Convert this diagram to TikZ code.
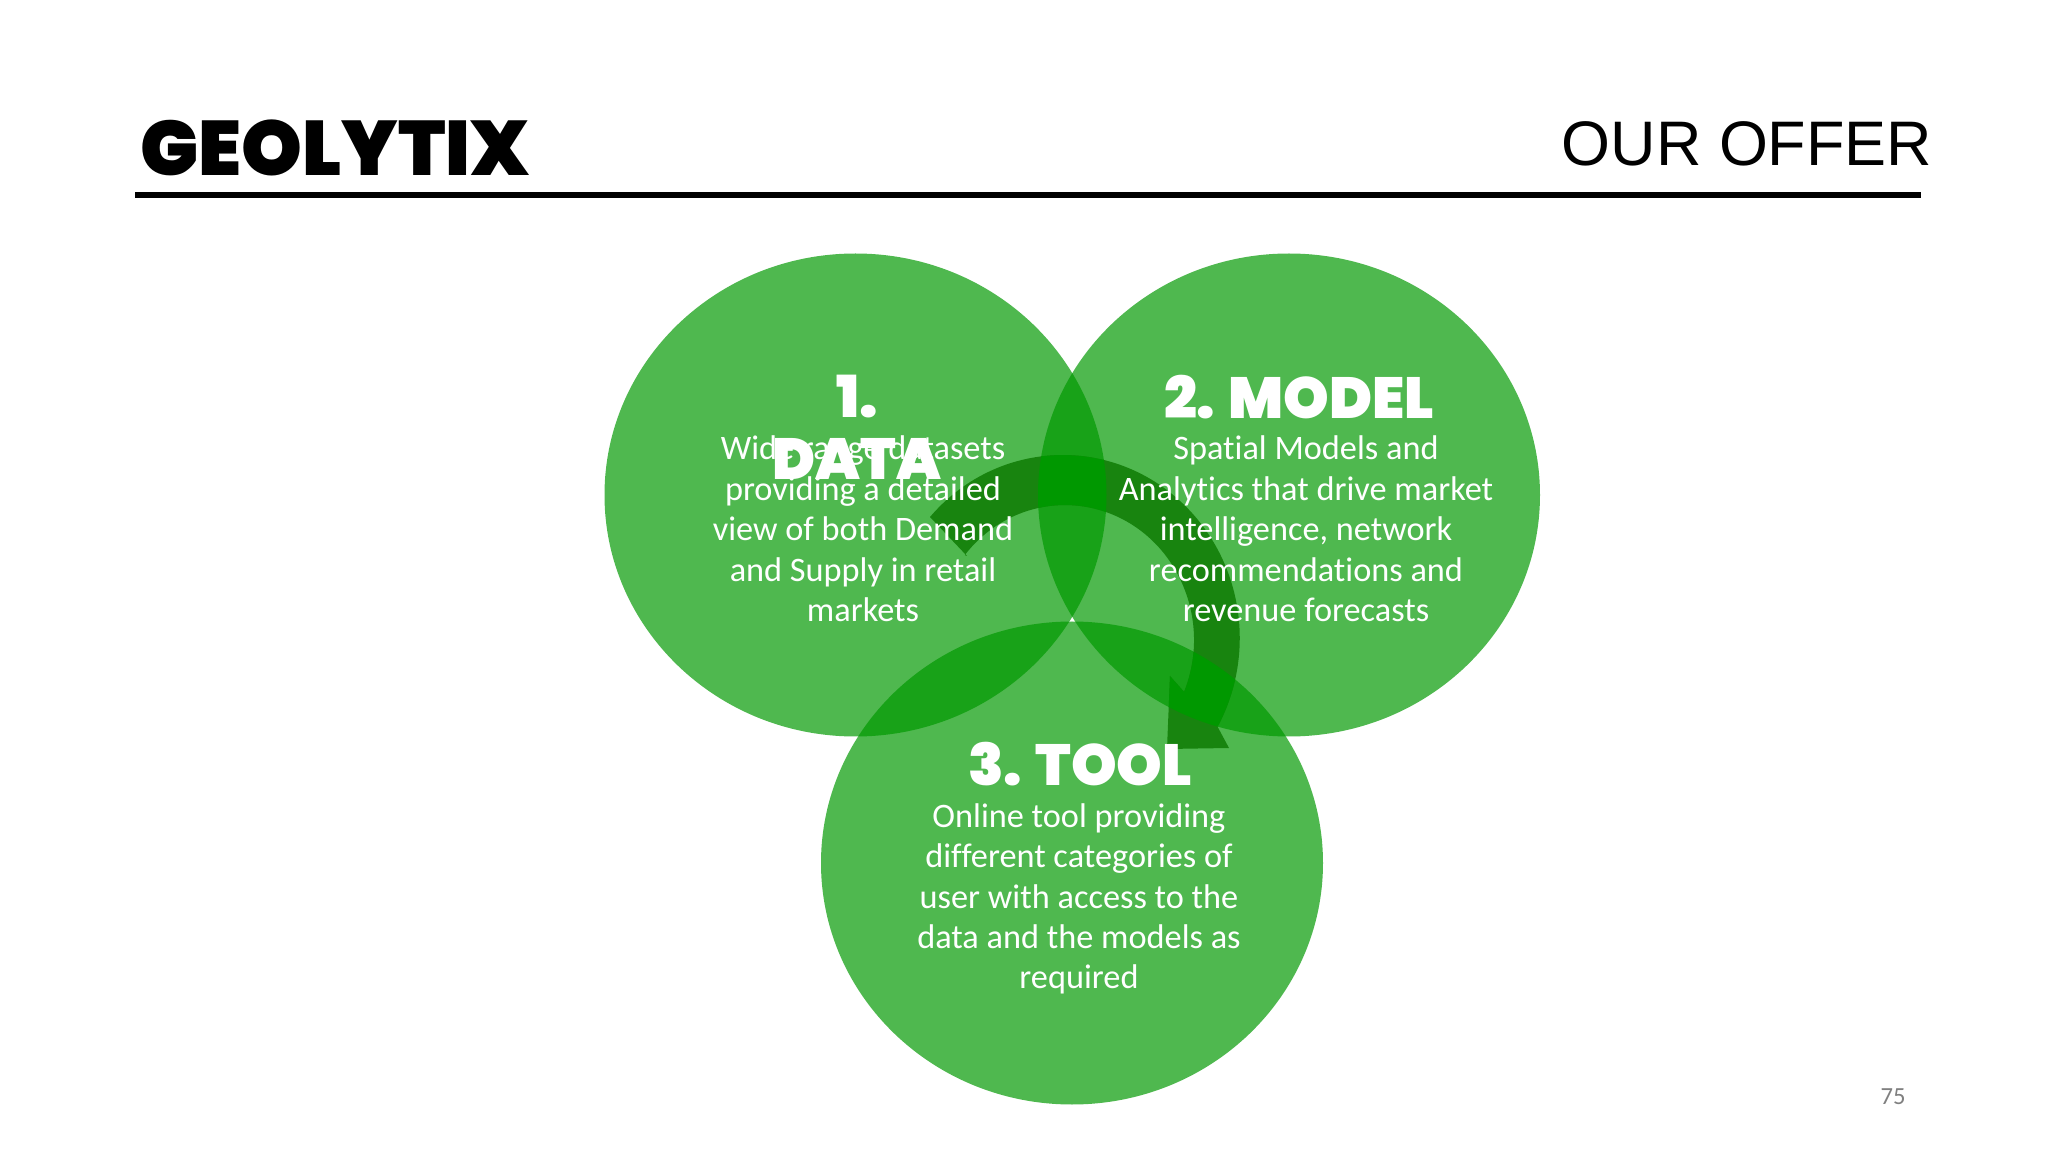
\documentclass[tikz,border=0pt]{standalone}
\usepackage{fontspec}
\setmainfont[Ligatures=NoCommon]{Carlito}
\newfontfamily\logofont[UprightFont=* Black]{Poppins}
\newfontfamily\titlefont{Liberation Sans}
\usetikzlibrary{shapes.geometric}
\definecolor{vennfill}{HTML}{009900}
\definecolor{arrowdark}{HTML}{18840F}
\definecolor{arrowlight}{HTML}{009800}
\tikzset{
    venn/.style={ellipse, inner sep=0pt, minimum width=5.02cm, minimum height=4.83cm, fill=vennfill, fill opacity=0.69},
    heading/.style={text=white, align=center, font=\logofont\fontsize{16.5}{17.6}\selectfont},
    body/.style={text=white, align=center, font=\fontsize{9.76}{11.5}\selectfont},
}
% curved arrow outline, shared by the three fills
\newcommand{\arrowoutline}{(9.30,-5.17) arc[start angle=138.6, end angle=-29, x radius=1.77, y radius=1.83]
    -- (12.29,-7.48) -- (11.67,-7.49) -- (11.70,-6.76) -- (11.841,-6.919)
    arc[start angle=-22.6, end angle=141, x radius=1.29, y radius=1.35] -- (9.67,-5.56) -- cycle}
\newcommand{\clipdata}{\clip (8.555,-4.95) ellipse (2.51 and 2.415);}
\newcommand{\clipmodel}{\clip (12.89,-4.95) ellipse (2.51 and 2.415);}
\newcommand{\cliptool}{\clip (10.72,-8.63) ellipse (2.51 and 2.415);}
\begin{document}
\begin{tikzpicture}
    \useasboundingbox (0,0) rectangle (20.48,-11.52);
    \fill[white] (0,0) rectangle (20.48,-11.52);
    % header
    \node[anchor=west, inner sep=0pt, font=\logofont\fontsize{22}{24}\selectfont] (logo) at (1.40,-1.48) {GEOLYTIX};
    \node[anchor=east, inner sep=0pt, font=\titlefont\fontsize{17.9}{20}\selectfont] (title) at (19.33,-1.44) {OUR OFFER};
    \coordinate (ruleleft) at (1.35,-1.95);
    \coordinate (ruleright) at (19.21,-1.95);
    \draw[line width=0.066cm] (ruleleft) -- (ruleright);
    % circles
    \node[venn] (data) at (8.555,-4.95) {};
    \node[venn] (model) at (12.89,-4.95) {};
    \node[venn] (tool) at (10.72,-8.63) {};
    % arrow, brighter where two circles overlap
    \fill[arrowdark] \arrowoutline;
    \begin{scope}
        \clipdata
        \clipmodel
        \fill[arrowlight] \arrowoutline;
    \end{scope}
    \begin{scope}
        \clipmodel
        \cliptool
        \fill[arrowlight] \arrowoutline;
    \end{scope}
    % texts
    \node[heading] (datahead) at (8.57,-4.27) {1.\\DATA};
    \node[heading] (modelhead) at (12.99,-3.97) {2. MODEL};
    \node[heading] (toolhead) at (10.80,-7.64) {3. TOOL};
    \node[body] (datatext) at (8.63,-5.29) {Wide range datasets\\providing a detailed\\view of both Demand\\and Supply in retail\\markets};
    \node[body] (modeltext) at (13.06,-5.29) {Spatial Models and\\Analytics that drive market\\intelligence, network\\recommendations and\\revenue forecasts};
    \node[body] (tooltext) at (10.79,-8.99) {Online tool providing\\different categories of\\user with access to the\\data and the models as\\required};
    \node[text=black!50, font=\fontsize{7}{8}\selectfont] (pagenum) at (18.93,-10.97) {75};
\end{tikzpicture}
\end{document}
